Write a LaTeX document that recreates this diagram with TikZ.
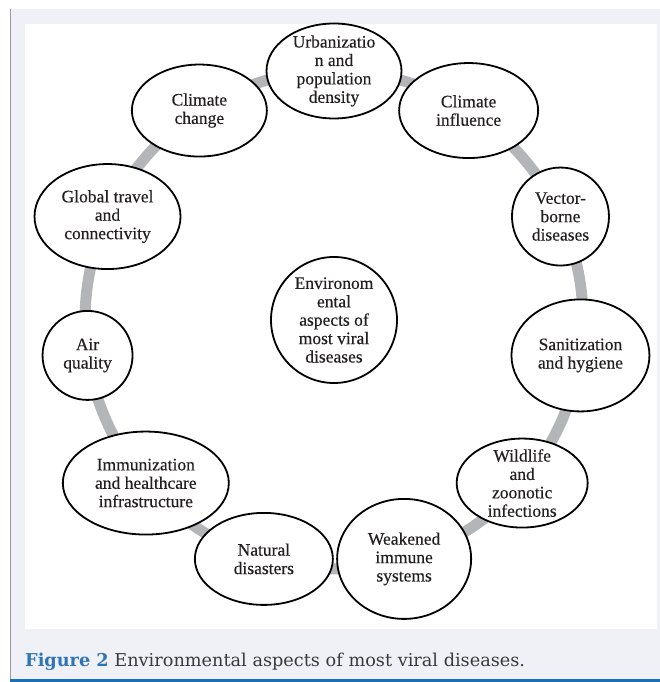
\documentclass[tikz,border=0pt]{standalone}
\usepackage{fontspec}
\setmainfont{Liberation Serif}
\newfontfamily\bubblefont[FakeBold=0.35]{Liberation Serif}
\newfontfamily\capfont{DejaVu Serif}
\usetikzlibrary{shapes.geometric,calc}
\pgfdeclarelayer{bg}
\pgfdeclarelayer{ringlayer}
\pgfsetlayers{bg,ringlayer,main}
\definecolor{panel}{HTML}{F0F1F6}
\definecolor{ringgray}{HTML}{B4B5B8}
\definecolor{capblue}{HTML}{2F74B5}
\definecolor{lineblue}{HTML}{1B6FB8}
\definecolor{captext}{HTML}{3A3A3A}
\definecolor{edgegray}{HTML}{9A9A9A}
\definecolor{inktext}{HTML}{231F20}
\begin{document}
\begin{tikzpicture}[x=1pt,y=1pt,
  bubble/.style={ellipse, draw=black, line width=1.8pt, fill=white, inner sep=-30pt,
    align=center, font=\bubblefont\fontsize{17.5}{18.4}\selectfont, text=inktext},
  ringseg/.style={draw=ringgray, line width=11pt},
  arcseg/.style={bend left=16.36, looseness=0.87},
  captionstyle/.style={anchor=base west, inner sep=0pt, text=captext,
    font=\capfont\fontsize{17.7}{20}\selectfont}
]
\useasboundingbox (0,0) rectangle (660,682);
\coordinate (C) at (334,362);

% nodes
\node[bubble, minimum width=126pt, minimum height=126pt] (env) at (C) {Environom\\ental\\aspects of\\most viral\\diseases};
\node[bubble, minimum width=135pt, minimum height=95pt] (urb) at ($(C)+(90:249)$) {Urbanizatio\\n and\\population\\density};
\node[bubble, minimum width=139pt, minimum height=95pt] (cinf) at ($(C)+(57.27:249)$) {Climate\\influence};
\node[bubble, minimum width=97pt, minimum height=98pt] (vec) at ($(C)+(24.55:249)$) {Vector-\\borne\\diseases};
\node[bubble, minimum width=138pt, minimum height=112pt] (san) at ($(C)+(-8.18:249)$) {Sanitization\\and hygiene};
\node[bubble, minimum width=131pt, minimum height=89pt] (wild) at ($(C)+(-40.91:249)$) {Wildlife\\and\\zoonotic\\infections};
\node[bubble, minimum width=134pt, minimum height=120pt] (weak) at ($(C)+(-73.64:249)$) {Weakened\\immune\\systems};
\node[bubble, minimum width=138pt, minimum height=92pt] (nat) at ($(C)+(-106.36:249)$) {Natural\\disasters};
\node[bubble, minimum width=166pt, minimum height=103pt] (imm) at ($(C)+(-139.09:249)$) {Immunization\\and healthcare\\infrastructure};
\node[bubble, minimum width=90pt, minimum height=89pt] (air) at ($(C)+(-171.82:249)$) {Air\\quality};
\node[bubble, minimum width=146pt, minimum height=105pt] (glob) at ($(C)+(155.45:249)$) {Global travel\\and\\connectivity};
\node[bubble, minimum width=135pt, minimum height=92pt] (cchg) at ($(C)+(122.73:249)$) {Climate\\change};

% caption
\node[captionstyle] (cap) at (25,15) {\textbf{\color{capblue}Figure 2} Environmental aspects of most viral diseases.};

% ring connectors
\begin{pgfonlayer}{ringlayer}
\draw[ringseg] (urb.center) to[arcseg] (cinf.center);
\draw[ringseg] (cinf.center) to[arcseg] (vec.center);
\draw[ringseg] (vec.center) to[arcseg] (san.center);
\draw[ringseg] (san.center) to[arcseg] (wild.center);
\draw[ringseg] (wild.center) to[arcseg] (weak.center);
\draw[ringseg] (weak.center) to[arcseg] (nat.center);
\draw[ringseg] (nat.center) to[arcseg] (imm.center);
\draw[ringseg] (imm.center) to[arcseg] (air.center);
\draw[ringseg] (air.center) to[arcseg] (glob.center);
\draw[ringseg] (glob.center) to[arcseg] (cchg.center);
\draw[ringseg] (cchg.center) to[arcseg] (urb.center);
\end{pgfonlayer}

% background panels
\begin{pgfonlayer}{bg}
\fill[white] (0,0) rectangle (660,682);
\fill[panel] (10,0) rectangle (660,673);
\fill[white] (25,53) rectangle (657,658);
\draw[edgegray, line width=1pt] (10.5,2) -- (10.5,673);
\fill[lineblue] (10,0) rectangle (660,2.7);
\end{pgfonlayer}
\end{tikzpicture}
\end{document}
